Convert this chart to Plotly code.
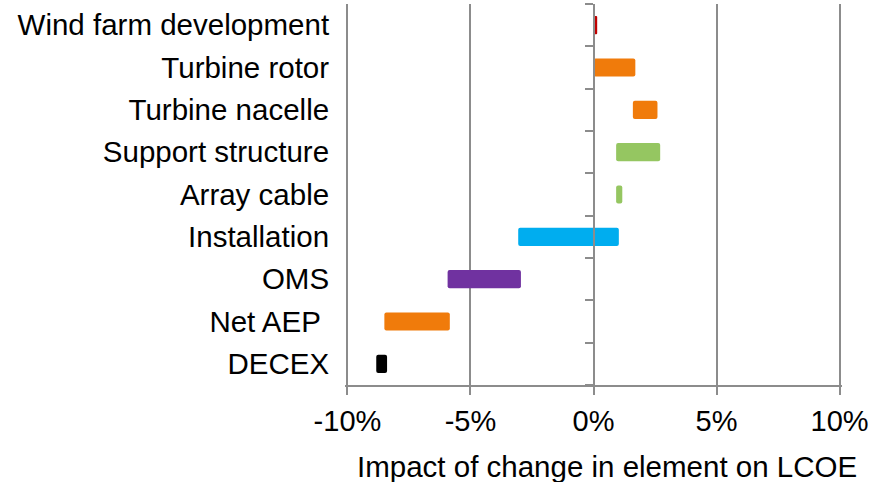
import plotly.graph_objects as go

categories = ["Wind farm development", "Turbine rotor", "Turbine nacelle",
              "Support structure", "Array cable", "Installation", "OMS",
              "Net AEP\u00a0", "DECEX"]
bar_start = [0.0, 0.0, 1.6, 0.92, 0.92, -3.06, -5.93, -8.5, -8.83]
bar_end = [0.15, 1.7, 2.6, 2.71, 1.17, 1.03, -2.95, -5.84, -8.39]
bar_colors = ["#C00000", "#F07B0B", "#F07B0B", "#95C661", "#95C661",
              "#00ADEF", "#7032A0", "#F07B0B", "#000000"]
x_tickvals = [-10, -5, 0, 5, 10]
x_ticktext = ["-10%", "-5%", "0%", "5%", "10%"]
x_title = "Impact of change in element on LCOE"

lengths = [e - s for s, e in zip(bar_start, bar_end)]
boundaries = [i - 0.5 for i in range(len(categories) + 1)]

GRID = "#8C8C8C"
FONT = "Liberation Sans, Arial, sans-serif"

fig = go.Figure()
fig.add_trace(go.Bar(
    y=categories, x=lengths, base=bar_start, orientation="h",
    marker=dict(color=bar_colors, line=dict(width=0), cornerradius=2),
    showlegend=False, hoverinfo="skip",
))
# invisible trace to carry the zero-position category axis
fig.add_trace(go.Scatter(x=[None], y=[None], yaxis="y2", showlegend=False,
                         hoverinfo="skip"))

fig.update_layout(
    width=889, height=482,
    margin=dict(l=345, r=47, t=4, b=97),
    paper_bgcolor="white", plot_bgcolor="white",
    font=dict(family=FONT, color="black"),
    bargap=0.57,
    xaxis=dict(
        range=[-10.1, 10.1], tickvals=x_tickvals, ticktext=x_ticktext,
        showgrid=True, gridcolor=GRID, gridwidth=2,
        zeroline=False,
        showline=True, linecolor=GRID, linewidth=2,
        ticks="outside", ticklen=8, tickwidth=2, tickcolor=GRID,
        tickfont=dict(size=29, family=FONT, color="black"),
        ticklabelstandoff=1,
    ),
    yaxis=dict(
        type="category", autorange="reversed",
        showgrid=False, zeroline=False, showline=False,
        ticks="outside", ticklen=9, tickcolor="rgba(0,0,0,0)",
        tickfont=dict(size=29.5, family=FONT, color="black"),
    ),
    yaxis2=dict(
        overlaying="y", anchor="free", position=0.5, side="left",
        range=[-0.5, len(categories) - 0.5],
        tickvals=boundaries, showticklabels=False,
        showgrid=False, zeroline=False,
        showline=True, linecolor=GRID, linewidth=2,
        ticks="outside", ticklen=8, tickwidth=2, tickcolor=GRID,
    ),
    annotations=[dict(
        text=x_title, xref="paper", yref="paper", x=0.527, y=-0.213,
        xanchor="center", yanchor="middle", showarrow=False,
        font=dict(size=29.5, family=FONT, color="black"),
    )],
)

fig.write_html("out.html", config={"displayModeBar": False},
               post_script="document.body.style.margin='0';")
